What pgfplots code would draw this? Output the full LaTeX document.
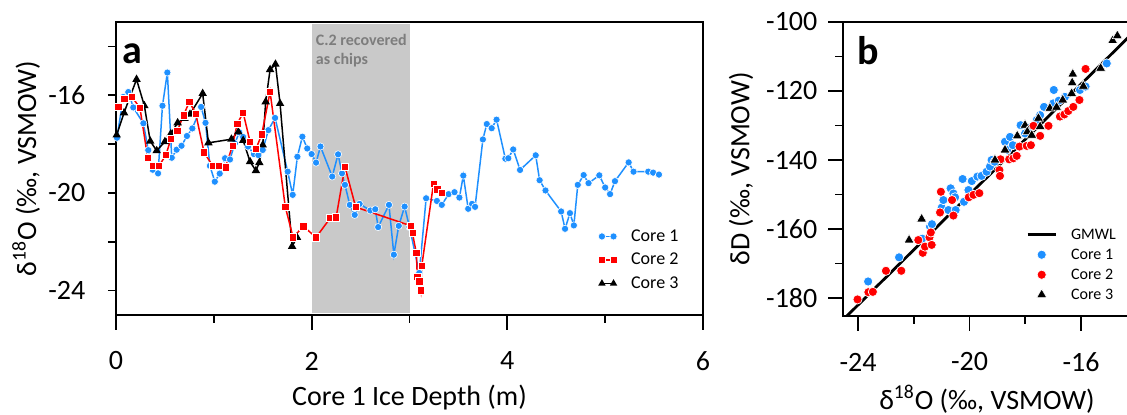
\documentclass[border=0pt]{standalone}
\usepackage{pgfplots}
\pgfplotsset{compat=1.18}
\usepackage{fontspec}
\setmainfont{Carlito}
\definecolor{cblue}{RGB}{30,144,255}
\definecolor{cred}{RGB}{255,0,0}
\definecolor{shade}{RGB}{201,201,201}
\definecolor{shtext}{RGB}{125,125,125}

\pgfplotstableread{
x y
0.01 -17.74
0.075 -16.07
0.126 -15.87
0.177 -16.50
0.28 -17.15
0.33 -18.25
0.375 -19.05
0.43 -19.20
0.475 -16.43
0.525 -15.07
0.57 -18.56
0.62 -18.23
0.67 -18.07
0.725 -17.67
0.78 -17.36
0.87 -16.48
0.915 -17.13
0.96 -18.89
1.01 -19.54
1.06 -19.21
1.115 -18.58
1.165 -18.63
1.215 -17.97
1.26 -17.52
1.30 -17.71
1.35 -18.10
1.41 -18.41
1.455 -18.45
1.50 -18.24
1.557 -17.43
1.626 -16.93
1.755 -19.13
1.806 -20.08
1.854 -18.52
1.905 -17.70
1.955 -18.18
2.00 -18.41
2.045 -18.76
2.09 -18.10
2.21 -19.33
2.27 -18.42
2.31 -19.20
2.34 -19.67
2.39 -20.49
2.44 -20.90
2.49 -20.45
2.60 -20.72
2.65 -20.67
2.68 -21.40
2.79 -20.49
2.84 -22.53
2.89 -21.35
2.95 -20.56
3.00 -21.40
3.10 -23.28
3.17 -20.22
3.28 -20.33
3.33 -20.49
3.40 -20.05
3.46 -19.97
3.51 -20.19
3.55 -19.29
3.60 -20.65
3.64 -20.45
3.67 -20.57
3.75 -17.81
3.79 -17.18
3.84 -17.35
3.89 -17.00
3.98 -18.60
4.01 -18.58
4.06 -18.22
4.13 -19.06
4.29 -18.46
4.33 -19.48
4.39 -19.90
4.55 -20.76
4.59 -21.47
4.64 -20.83
4.68 -21.33
4.72 -19.67
4.78 -19.27
4.83 -19.60
4.94 -19.28
5.00 -19.78
5.05 -20.05
5.10 -19.52
5.24 -18.75
5.29 -19.13
5.44 -19.13
5.49 -19.17
5.55 -19.25
}\coreA

\pgfplotstableread{
x y
0.024 -16.48
0.085 -16.16
0.164 -16.07
0.245 -16.52
0.324 -18.56
0.38 -18.89
0.44 -18.89
0.51 -18.45
0.56 -17.80
0.627 -17.47
0.69 -16.82
0.75 -16.27
0.815 -16.75
0.90 -18.34
0.99 -18.90
1.056 -18.90
1.12 -18.95
1.19 -18.07
1.24 -17.16
1.30 -16.72
1.37 -17.90
1.43 -18.21
1.49 -17.60
1.575 -15.86
1.73 -20.56
1.81 -21.82
1.915 -21.37
2.045 -21.82
2.19 -21.03
2.25 -21.00
2.34 -18.93
2.45 -20.58
3.015 -21.35
3.03 -21.65
3.07 -22.46
3.08 -23.44
3.10 -23.62
3.115 -23.99
3.125 -23.00
3.245 -19.63
3.285 -19.85
3.33 -20.01
}\coreB

\pgfplotstableread{
x y
0.007 -17.63
0.082 -16.72
0.21 -15.35
0.29 -16.43
0.35 -17.88
0.416 -18.27
0.50 -17.90
0.56 -17.58
0.63 -17.13
0.70 -16.95
0.756 -16.78
0.886 -15.93
0.945 -17.95
1.18 -17.80
1.25 -17.50
1.30 -17.85
1.37 -18.72
1.43 -19.09
1.465 -18.76
1.50 -18.04
1.53 -16.27
1.575 -14.95
1.63 -14.73
1.677 -16.34
1.80 -22.19
1.85 -21.82
}\coreC

\pgfplotstableread{
x y
-23.64 -175.2
-22.53 -168.2
-21.70 -162.8
-21.42 -159.3
-21.35 -158.6
-21.00 -153.8
-20.94 -151.6
-20.76 -154.5
-20.68 -148.2
-20.58 -149.7
-20.52 -150.8
-20.50 -154.5
-20.25 -145.5
-20.20 -152.1
-20.04 -148.7
-19.92 -146.1
-19.72 -144.8
-19.57 -144.6
-19.39 -143.4
-19.27 -141.9
-19.21 -140.0
-19.10 -140.5
-18.73 -134.7
-18.65 -137.0
-18.55 -133.3
-18.45 -135.7
-18.17 -129.9
-18.01 -132.3
-17.80 -130.5
-17.59 -128.4
-17.47 -127.0
-17.33 -124.6
-16.98 -119.7
-17.00 -123.6
-16.80 -122.8
-16.58 -121.7
-16.04 -119.7
-15.84 -118.7
-15.08 -112.0
}\isoA

\pgfplotstableread{
x y
-24.02 -180.4
-23.63 -178.3
-23.47 -178.2
-23.00 -172.1
-22.45 -172.1
-21.84 -163.2
-21.68 -166.9
-21.60 -165.1
-21.44 -162.4
-21.39 -161.0
-21.36 -164.6
-21.06 -155.2
-21.03 -149.2
-20.63 -151.6
-20.58 -156.1
-20.03 -150.8
-19.86 -150.1
-19.65 -149.6
-18.93 -142.9
-18.91 -144.6
-18.89 -139.8
-18.58 -139.8
-18.43 -139.5
-18.31 -138.8
-18.21 -136.1
-17.95 -135.9
-17.80 -135.7
-17.71 -130.1
-17.47 -133.0
-17.17 -130.1
-16.76 -127.4
-16.60 -126.8
-16.46 -125.8
-16.28 -124.6
-16.06 -122.6
-15.84 -113.6
}\isoB

\pgfplotstableread{
x y
-22.17 -163.2
-21.72 -157.1
-19.09 -140.0
-18.73 -137.1
-18.29 -133.0
-18.01 -129.9
-17.93 -131.8
-17.77 -132.8
-17.53 -127.9
-17.47 -130.3
-17.12 -125.0
-16.88 -124.7
-16.66 -122.6
-16.34 -120.7
-16.32 -117.6
-16.30 -115.1
-15.92 -118.6
-15.30 -113.4
-14.87 -105.4
-14.70 -104.0
}\isoC

\begin{document}
\begin{tikzpicture}
\useasboundingbox (-58pt,-50pt) rectangle (505.5pt,157.5pt);
\pgfplotsset{
  common/.style={
    scale only axis,
    axis line style={line width=0.9pt},
    every tick/.style={black, line width=0.9pt},
    tick align=outside,
    xtick pos=lower, ytick pos=left,
    tick label style={font=\fontsize{14}{16}\selectfont},
    label style={font=\fontsize{14}{16}\selectfont},
  }
}
% ---------------- panel a ----------------
\begin{axis}[common,
  at={(0pt,0pt)}, anchor=south west,
  width=293.5pt, height=146.5pt,
  xmin=0, xmax=6, ymin=-25, ymax=-13,
  xtick={1,3,5}, xticklabels={},
  major tick length=4pt,
  ytick={-24,-22,-20,-18,-16,-14},
  yticklabels={-24,,-20,,-16,},
  yticklabel style={anchor=east, xshift=-7.8pt},
  ylabel={δ\textsuperscript{18}O (‰, VSMOW)},
  ylabel style={at={(axis description cs:-0.153,0.5)}, anchor=center},
  legend style={draw=none, fill=none, at={(axis description cs:0.821,0.307)}, anchor=north west,
    inner sep=0pt, font=\fontsize{9}{10}\selectfont, row sep=0.75pt,
    nodes={inner sep=1pt, text height=7pt, text depth=2pt}},
  legend cell align=left,
  legend image code/.code={\draw[#1] plot coordinates {(0pt,0pt) (5.8pt,0pt)};},
  /tikz/every odd column/.append style={column sep=6pt},
]
\addplot[draw=none, fill=shade, forget plot] coordinates {(2,-24.92) (3,-24.92) (3,-13.08) (2,-13.08)} -- cycle;
\addplot[cblue, line width=0.75pt, mark=*, mark size=1.8pt, mark options={draw=white, fill=cblue, line width=0.3pt}, forget plot] table {\coreA};
\addplot[black, line width=0.75pt, mark=triangle*, mark size=1.7pt, mark options={black}, forget plot] table {\coreC};
\addplot[cred, line width=0.75pt, mark=square*, mark size=1.8pt, mark options={draw=white, fill=cred, line width=0.3pt}, forget plot] table {\coreB};
\addlegendimage{cblue, line width=0.75pt, mark=*, mark size=1.8pt, mark options={draw=white, fill=cblue, line width=0.3pt}}
\addlegendentry{Core 1}
\addlegendimage{cred, line width=0.75pt, mark=square*, mark size=1.8pt, mark options={draw=white, fill=cred, line width=0.3pt}}
\addlegendentry{Core 2}
\addlegendimage{black, line width=0.75pt, mark=triangle*, mark size=1.4pt}
\addlegendentry{Core 3}
\node[anchor=base, inner sep=0pt, font=\fontsize{20}{22}\selectfont\bfseries] at (axis description cs:0.0275,0.857) {a};
\node[anchor=base west, inner sep=0pt, align=left, text=shtext, font=\fontsize{8}{9.6}\selectfont\bfseries] at (axis cs:2.04,-14.73) {C.2 recovered\\as chips};
\end{axis}
% overlay for long major x ticks and labels of panel a
\begin{axis}[common,
  at={(0pt,0pt)}, anchor=south west,
  width=293.5pt, height=146.5pt,
  xmin=0, xmax=6, ymin=-25, ymax=-13,
  axis x line*=bottom, axis y line=none,
  xtick={0,2,4,6}, xticklabels={0,2,4,6},
  major tick length=7.5pt,
  xticklabel style={anchor=center, yshift=-15.5pt},
  xlabel={Core 1 Ice Depth (m)},
  xlabel style={at={(axis description cs:0.5,-0.283)}, anchor=center},
]
\end{axis}
% ---------------- panel b ----------------
\begin{axis}[common,
  at={(363.5pt,-0.5pt)}, anchor=south west,
  width=144pt, height=147pt,
  xmin=-24.54, xmax=-14.21, ymin=-185.2, ymax=-100,
  xtick={-24,-20,-16}, xticklabels={-24,-20,-16},
  minor xtick={-22,-18},
  ytick={-180,-160,-140,-120,-100}, yticklabels={-180,-160,-140,-120,-100},
  minor ytick={-170,-150,-130,-110},
  major tick length=7.5pt, minor tick length=4pt,
  xticklabel style={anchor=center, yshift=-15.5pt},
  yticklabel style={anchor=east, xshift=-1.8pt},
  xlabel={δ\textsuperscript{18}O (‰, VSMOW)},
  ylabel={δD (‰, VSMOW)},
  xlabel style={at={(axis description cs:0.5,-0.283)}, anchor=center},
  ylabel style={at={(axis description cs:-0.354,0.5)}, anchor=center},
  legend style={draw=none, fill=none, at={(axis description cs:0.635,0.31)}, anchor=north west,
    inner sep=0pt, font=\fontsize{8}{9}\selectfont, row sep=0.5pt,
    nodes={inner sep=1pt, text height=6pt, text depth=1.5pt}},
  legend cell align=left,
  legend image code/.code={\draw[mark repeat=2, mark phase=2, #1] plot coordinates {(0pt,0pt) (7pt,0pt) (14pt,0pt)};},
  /tikz/every odd column/.append style={column sep=6pt},
]
\addplot[only marks, mark=*, mark size=2.3pt, mark options={draw=white, fill=cblue, line width=0.35pt}, forget plot] table {\isoA};
\addplot[only marks, mark=*, mark size=2.3pt, mark options={draw=white, fill=cred, line width=0.35pt}, forget plot] table {\isoB};
\addplot[only marks, mark=triangle*, mark size=2.9pt, mark options={draw=white, fill=black, line width=0.3pt}, forget plot] table {\isoC};
\addplot[black, line width=1.4pt, forget plot] coordinates {(-24.54,-186.32) (-14.21,-103.68)};
\addlegendimage{black, line width=1.4pt}
\addlegendentry{GMWL}
\addlegendimage{only marks, mark=*, mark size=2.3pt, mark options={draw=white, fill=cblue, line width=0.35pt}}
\addlegendentry{Core 1}
\addlegendimage{only marks, mark=*, mark size=2.3pt, mark options={draw=white, fill=cred, line width=0.35pt}}
\addlegendentry{Core 2}
\addlegendimage{only marks, mark=triangle*, mark size=2.9pt, mark options={draw=white, fill=black, line width=0.3pt}}
\addlegendentry{Core 3}
\node[anchor=base, inner sep=0pt, font=\fontsize{20}{22}\selectfont\bfseries] at (axis description cs:0.088,0.857) {b};
\end{axis}
\end{tikzpicture}
\end{document}
